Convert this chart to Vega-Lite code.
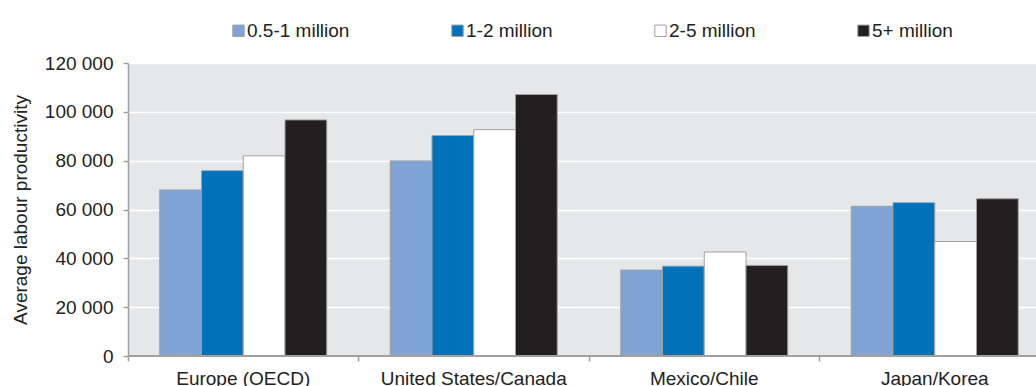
{
  "$schema": "https://vega.github.io/schema/vega-lite/v6.json",
  "padding": {"left": 11, "top": 14, "right": 0, "bottom": 0},
  "background": "white",
  "spacing": 16,
  "bounds": "flush",
  "config": {
    "font": "Liberation Sans",
    "view": {"fill": "#e6e7e9", "stroke": null}
  },
  "resolve": {"scale": {"color": "independent"}, "legend": {"color": "independent"}},
  "vconcat": [
    {
      "width": 908,
      "height": 33,
      "data": {"values": []},
      "mark": "rect",
      "encoding": {}
    },
    {
      "width": 908,
      "height": 293,
      "data": {
        "values": [
          {"region": "Europe (OECD)", "size": "0.5-1 million", "value": 68000},
          {"region": "Europe (OECD)", "size": "1-2 million", "value": 75900},
          {"region": "Europe (OECD)", "size": "2-5 million", "value": 82000},
          {"region": "Europe (OECD)", "size": "5+ million", "value": 96700},
          {"region": "United States/Canada", "size": "0.5-1 million", "value": 79900},
          {"region": "United States/Canada", "size": "1-2 million", "value": 90300},
          {"region": "United States/Canada", "size": "2-5 million", "value": 92700},
          {"region": "United States/Canada", "size": "5+ million", "value": 107100},
          {"region": "Mexico/Chile", "size": "0.5-1 million", "value": 35200},
          {"region": "Mexico/Chile", "size": "1-2 million", "value": 36800},
          {"region": "Mexico/Chile", "size": "2-5 million", "value": 42600},
          {"region": "Mexico/Chile", "size": "5+ million", "value": 37100},
          {"region": "Japan/Korea", "size": "0.5-1 million", "value": 61300},
          {"region": "Japan/Korea", "size": "1-2 million", "value": 62800},
          {"region": "Japan/Korea", "size": "2-5 million", "value": 46900},
          {"region": "Japan/Korea", "size": "5+ million", "value": 64400}
        ]
      },
      "layer": [
        {
          "mark": {"type": "bar", "stroke": "#a0a0a0", "strokeWidth": 1},
          "encoding": {
            "x": {
              "field": "region",
              "type": "nominal",
              "sort": ["Europe (OECD)", "United States/Canada", "Mexico/Chile", "Japan/Korea"],
              "scale": {"range": [0, 922], "paddingInner": 0, "paddingOuter": 0},
              "axis": {
                "title": null,
                "domain": false,
                "bandPosition": 0,
                "labelOffset": 0,
                "labelAngle": 0,
                "labelFontSize": 19,
                "labelColor": "#222222",
                "labelPadding": 8,
                "labelLimit": 300,
                "ticks": true,
                "tickSize": 5,
                "tickWidth": 1.5,
                "tickColor": "#a0a0a0",
                "grid": false
              }
            },
            "xOffset": {
              "field": "size",
              "type": "nominal",
              "sort": ["0.5-1 million", "1-2 million", "2-5 million", "5+ million"],
              "scale": {"paddingInner": 0, "paddingOuter": 0.76}
            },
            "y": {
              "field": "value",
              "type": "quantitative",
              "scale": {"domain": [0, 120000], "nice": false},
              "axis": {
                "title": "Average labour productivity",
                "titleFontSize": 19,
                "titleFontWeight": "normal",
                "titleColor": "#222222",
                "titlePadding": 14,
                "values": [0, 20000, 40000, 60000, 80000, 100000, 120000],
                "labelExpr": "replace(format(datum.value, ','), ',', ' ')",
                "labelFontSize": 19,
                "labelColor": "#222222",
                "labelPadding": 10,
                "tickSize": 5,
                "tickWidth": 1.5,
                "tickColor": "#a0a0a0",
                "domainColor": "#a0a0a0",
                "domainWidth": 1.5,
                "grid": true,
                "gridColor": "#ffffff",
                "gridWidth": 1.3
              }
            },
            "color": {
              "field": "size",
              "type": "nominal",
              "sort": ["0.5-1 million", "1-2 million", "2-5 million", "5+ million"],
              "scale": {
                "domain": ["0.5-1 million", "1-2 million", "2-5 million", "5+ million"],
                "range": ["#7ea3d4", "#0071bb", "#ffffff", "#231f20"]
              },
              "legend": {
                "title": null,
                "orient": "none",
                "legendX": 101,
                "legendY": -42,
                "direction": "horizontal",
                "symbolType": "square",
                "symbolSize": 130,
                "symbolStrokeColor": "#a0a0a0",
                "symbolStrokeWidth": 1,
                "symbolOpacity": 1,
                "labelFontSize": 19,
                "labelColor": "#222222",
                "labelOffset": -1,
                "labelLimit": 300,
                "columnPadding": 98,
                "padding": 0
              }
            }
          }
        },
        {
          "mark": {"type": "rule", "color": "#a0a0a0", "strokeWidth": 1.5},
          "encoding": {"y": {"datum": 0}}
        }
      ]
    }
  ]
}
